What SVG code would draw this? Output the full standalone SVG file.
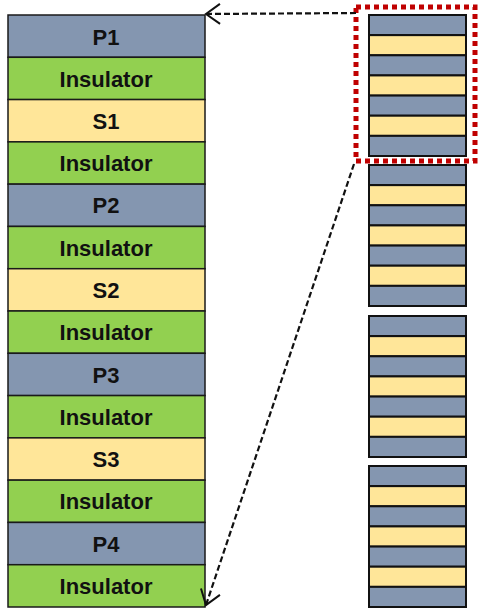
<svg xmlns="http://www.w3.org/2000/svg" width="479" height="615" viewBox="0 0 479 615">
<defs>
<style>
.p{fill:#8496B0;stroke:#1a1a1a;stroke-width:1.5}
.i{fill:#92D050;stroke:#1a1a1a;stroke-width:1.5}
.s{fill:#FFE699;stroke:#1a1a1a;stroke-width:1.5}
.rb{fill:#8496B0;stroke:#111;stroke-width:2}
.ry{fill:#FFE699;stroke:#111;stroke-width:2}
.t{font-family:"Liberation Sans",Arial,sans-serif;font-weight:bold;font-size:22px;fill:#111;text-anchor:middle}
.c{fill:none;stroke:#111;stroke-width:2.2;stroke-dasharray:6 3}
</style>
<marker id="a" markerWidth="18" markerHeight="24" refX="15" refY="11" orient="auto" markerUnits="userSpaceOnUse">
<path d="M1,1 L15,11 L1,21" fill="none" stroke="#111" stroke-width="2"/>
</marker>
</defs>
<g id="left-stack">
<g id="P1"><rect class="p" x="8" y="15" width="197" height="42.29"/><text class="t" x="106" y="44.5">P1</text></g>
<g id="Ins1"><rect class="i" x="8" y="57.29" width="197" height="42.29"/><text class="t" x="106" y="86.5">Insulator</text></g>
<g id="S1"><rect class="s" x="8" y="99.57" width="197" height="42.29"/><text class="t" x="106" y="128.8">S1</text></g>
<g id="Ins2"><rect class="i" x="8" y="141.86" width="197" height="42.29"/><text class="t" x="106" y="171.1">Insulator</text></g>
<g id="P2"><rect class="p" x="8" y="184.14" width="197" height="42.29"/><text class="t" x="106" y="213.4">P2</text></g>
<g id="Ins3"><rect class="i" x="8" y="226.43" width="197" height="42.29"/><text class="t" x="106" y="255.7">Insulator</text></g>
<g id="S2"><rect class="s" x="8" y="268.71" width="197" height="42.29"/><text class="t" x="106" y="297.9">S2</text></g>
<g id="Ins4"><rect class="i" x="8" y="311" width="197" height="42.29"/><text class="t" x="106" y="340.2">Insulator</text></g>
<g id="P3"><rect class="p" x="8" y="353.29" width="197" height="42.29"/><text class="t" x="106" y="382.5">P3</text></g>
<g id="Ins5"><rect class="i" x="8" y="395.57" width="197" height="42.29"/><text class="t" x="106" y="424.8">Insulator</text></g>
<g id="S3"><rect class="s" x="8" y="437.86" width="197" height="42.29"/><text class="t" x="106" y="467.1">S3</text></g>
<g id="Ins6"><rect class="i" x="8" y="480.14" width="197" height="42.29"/><text class="t" x="106" y="509.4">Insulator</text></g>
<g id="P4"><rect class="p" x="8" y="522.43" width="197" height="42.29"/><text class="t" x="106" y="551.7">P4</text></g>
<g id="Ins7"><rect class="i" x="8" y="564.71" width="197" height="42.29"/><text class="t" x="106" y="593.9">Insulator</text></g>
</g>
<g id="stack-1">
<rect class="rb" x="369" y="15" width="97" height="20.14"/>
<rect class="ry" x="369" y="35.14" width="97" height="20.14"/>
<rect class="rb" x="369" y="55.29" width="97" height="20.14"/>
<rect class="ry" x="369" y="75.43" width="97" height="20.14"/>
<rect class="rb" x="369" y="95.57" width="97" height="20.14"/>
<rect class="ry" x="369" y="115.71" width="97" height="20.14"/>
<rect class="rb" x="369" y="135.86" width="97" height="20.14"/>
</g>
<g id="stack-2">
<rect class="rb" x="369" y="165" width="97" height="20.14"/>
<rect class="ry" x="369" y="185.14" width="97" height="20.14"/>
<rect class="rb" x="369" y="205.29" width="97" height="20.14"/>
<rect class="ry" x="369" y="225.43" width="97" height="20.14"/>
<rect class="rb" x="369" y="245.57" width="97" height="20.14"/>
<rect class="ry" x="369" y="265.71" width="97" height="20.14"/>
<rect class="rb" x="369" y="285.86" width="97" height="20.14"/>
</g>
<g id="stack-3">
<rect class="rb" x="369" y="316" width="97" height="20.14"/>
<rect class="ry" x="369" y="336.14" width="97" height="20.14"/>
<rect class="rb" x="369" y="356.29" width="97" height="20.14"/>
<rect class="ry" x="369" y="376.43" width="97" height="20.14"/>
<rect class="rb" x="369" y="396.57" width="97" height="20.14"/>
<rect class="ry" x="369" y="416.71" width="97" height="20.14"/>
<rect class="rb" x="369" y="436.86" width="97" height="20.14"/>
</g>
<g id="stack-4">
<rect class="rb" x="369" y="466" width="97" height="20.14"/>
<rect class="ry" x="369" y="486.14" width="97" height="20.14"/>
<rect class="rb" x="369" y="506.29" width="97" height="20.14"/>
<rect class="ry" x="369" y="526.43" width="97" height="20.14"/>
<rect class="rb" x="369" y="546.57" width="97" height="20.14"/>
<rect class="ry" x="369" y="566.71" width="97" height="20.14"/>
<rect class="rb" x="369" y="586.86" width="97" height="20.14"/>
</g>
<g id="zoom-box">
<rect x="356" y="7" width="119" height="154" fill="none" stroke="#C00000" stroke-width="5" stroke-dasharray="5 4"/>
</g>
<g id="connectors">
<path class="c" d="M356,13 L206,14" marker-end="url(#a)"/>
<path class="c" d="M354,164 L206,605" marker-end="url(#a)"/>
</g>
</svg>
